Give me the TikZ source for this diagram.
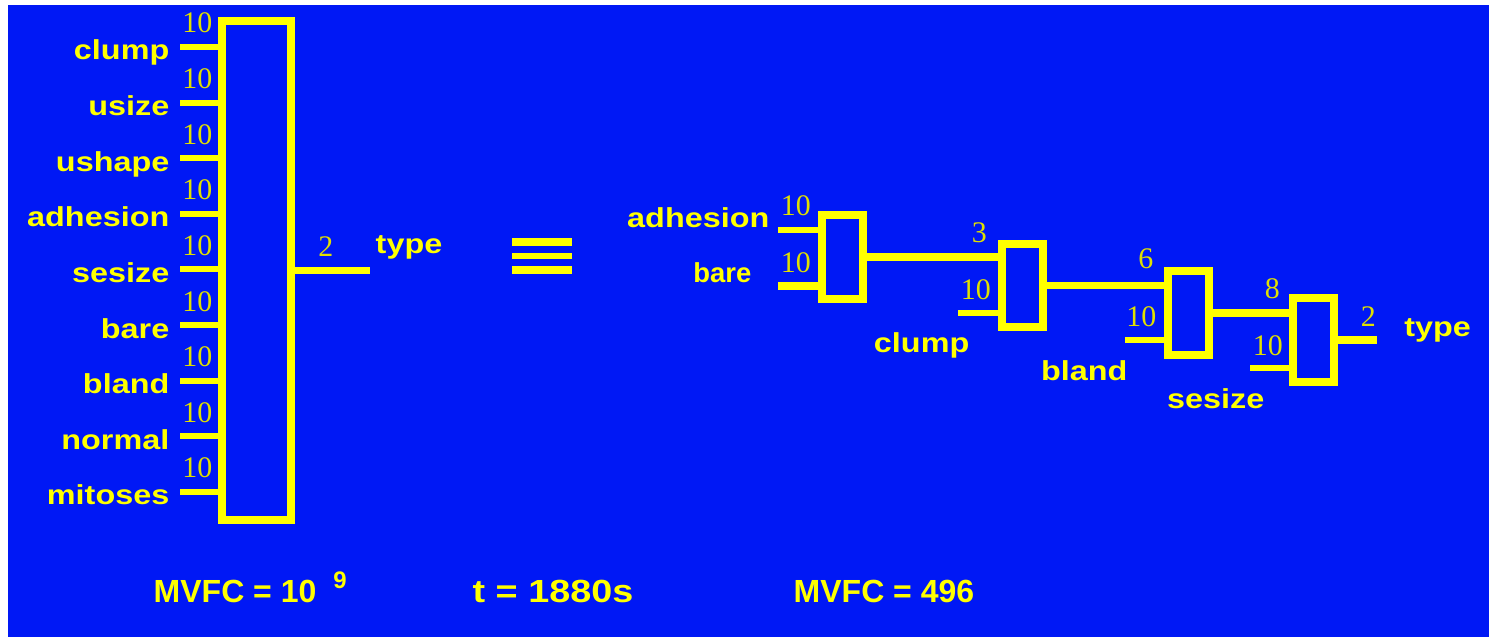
\documentclass[tikz,border=0pt]{standalone}
\usepackage{fontspec}
\setmainfont{Liberation Sans}
\newfontfamily\widesans{Liberation Sans}[FakeStretch=1.18]
\newfontfamily\cardserif{Liberation Serif}
\definecolor{slideblue}{RGB}{0,24,245}
\definecolor{slideyellow}{RGB}{255,255,0}

\begin{document}
\begin{tikzpicture}[
    x = 0.01cm, y = -0.01cm,
    every node/.style = {text = slideyellow, inner sep = 0pt},
    varlabel/.style = {font = \widesans\bfseries\fontsize{7.8}{9}\selectfont, anchor = base east},
    cardlabel/.style = {font = \cardserif\fontsize{8.5}{10}\selectfont, text = slideyellow!88!black, anchor = base east},
    summary/.style = {font = \bfseries\fontsize{9.1}{11}\selectfont, anchor = base west},
    factorbox/.style = {draw = slideyellow, line width = 0.08cm, minimum width = 0.41cm, minimum height = 0.83cm},
    stubline/.style = {draw = slideyellow, line width = 0.06cm},
    wireline/.style = {draw = slideyellow, line width = 0.07cm}
]

\useasboundingbox (0, 0) rectangle (1489, 637);
\fill[white] (0, 0) rectangle (1489, 637);
\fill[slideblue] (8, 5) rectangle (1489, 637);

\node[factorbox, minimum width = 0.69cm, minimum height = 4.99cm] (joint) at (256.5, 270.5) {};
\foreach \v [count = \i] in {clump, usize, ushape, adhesion, sesize, bare, bland, normal, mitoses} {
    \coordinate (jin\i) at (180, {47 + 55.6*(\i-1)});
    \draw[stubline] (jin\i) -- (jin\i -| joint.west) coordinate (jend\i);
    \node[varlabel] (jvar\i) at ([shift = {(-10, 13)}] jin\i) {\v};
    \node[cardlabel] (jcard\i) at ([shift = {(-5, -14)}] jend\i) {10};
}
\draw[wireline] (joint.east) -- ++(75, 0) coordinate (jout);
\node[cardlabel] (jcardout) at ([shift = {(-36, -14)}] jout) {2};
\node[varlabel, anchor = base west] (jtype) at ([shift = {(5, -17)}] jout) {type};

\foreach \top/\bot in {238/246, 253/259, 266/274}
    \fill[slideyellow] (512, \top) rectangle (572, \bot);

\node[factorbox] (fa) at (842, 257) {};
\node[factorbox] (fb) at (1022, 285.5) {};
\node[factorbox] (fc) at (1188.5, 313) {};
\node[factorbox] (fd) at (1313, 340) {};

\coordinate (ain1) at (778, 230);
\coordinate (ain2) at (778, 286);
\draw[stubline] (ain1) -- (ain1 -| fa.west) coordinate (aend1);
\draw[stubline, line width = 0.08cm] (ain2) -- (ain2 -| fa.west) coordinate (aend2);
\node[varlabel] (avar1) at ([shift = {(-8, -2)}] ain1) {adhesion};
\node[varlabel, font = \bfseries\fontsize{7.8}{9}\selectfont] (avar2) at ([shift = {(-26, -4)}] ain2) {bare};
\node[cardlabel] (acard1) at ([shift = {(-6, -14)}] aend1) {10};
\node[cardlabel] (acard2) at ([shift = {(-6, -14)}] aend2) {10};

\draw[wireline] (fa.east) -- (fa.east -| fb.west) coordinate (bend1);
\coordinate (bin2) at (958, 313);
\draw[stubline] (bin2) -- (bin2 -| fb.west) coordinate (bend2);
\node[cardlabel] (bcard1) at ([shift = {(-10, -15)}] bend1) {3};
\node[cardlabel] (bcard2) at ([shift = {(-6, -14)}] bend2) {10};
\node[varlabel] (bvar2) at ([shift = {(12, 39)}] bin2) {clump};

\draw[wireline] (fb.east) -- (fb.east -| fc.west) coordinate (cend1);
\coordinate (cin2) at (1125, 340);
\draw[stubline] (cin2) -- (cin2 -| fc.west) coordinate (cend2);
\node[cardlabel] (ccard1) at ([shift = {(-10, -17)}] cend1) {6};
\node[cardlabel] (ccard2) at ([shift = {(-7, -13)}] cend2) {10};
\node[varlabel] (cvar2) at ([shift = {(3, 40)}] cin2) {bland};

\draw[wireline] (fc.east) -- (fc.east -| fd.west) coordinate (dend1);
\coordinate (din2) at (1250, 368);
\draw[stubline] (din2) -- (din2 -| fd.west) coordinate (dend2);
\node[cardlabel] (dcard1) at ([shift = {(-8, -15)}] dend1) {8};
\node[cardlabel] (dcard2) at ([shift = {(-5, -13)}] dend2) {10};
\node[varlabel] (dvar2) at ([shift = {(15, 40)}] din2) {sesize};

\draw[wireline] (fd.east) -- ++(39, 0) coordinate (dout);
\node[cardlabel] (dcardout) at ([shift = {(0, -14)}] dout) {2};
\node[varlabel, anchor = base west] (dtype) at ([shift = {(27, -4)}] dout) {type};

\node[summary] (mvfcjoint) at (153, 602) {MVFC = 10\hspace{0.17cm}\raisebox{0.13cm}{\fontsize{6.8}{7}\selectfont 9}};
\node[summary, font = \widesans\bfseries\fontsize{9.1}{11}\selectfont] (runtime) at (472, 602) {t = 1880s};
\node[summary] (mvfcchain) at (793, 602) {MVFC = 496};

\end{tikzpicture}
\end{document}
